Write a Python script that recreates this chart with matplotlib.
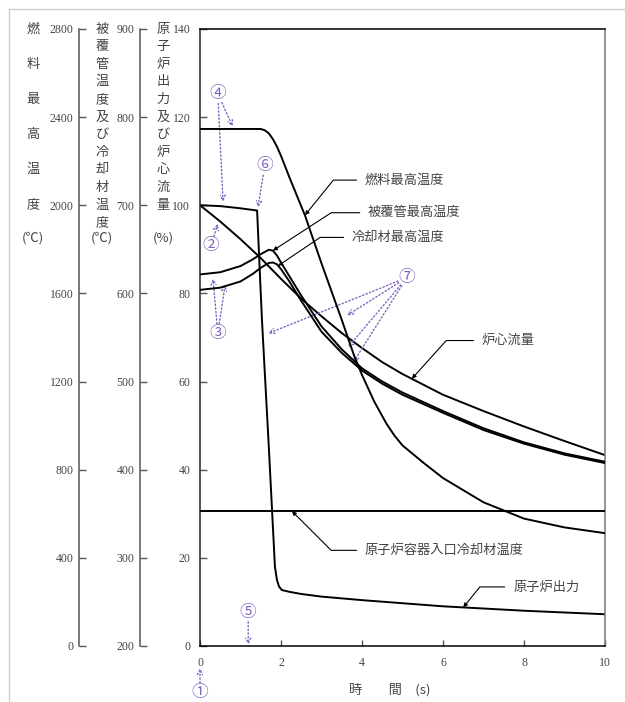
import numpy as np
import matplotlib.pyplot as plt
from matplotlib.lines import Line2D

# === データ ===
t_fuel = [0, 1.5, 1.6, 1.7, 1.8, 1.9, 2.0, 2.2, 2.6, 3.0, 3.5, 3.8, 4.0, 4.3, 4.6, 4.8, 5.0, 5.5, 6.0, 7.0, 8.0, 9.0, 10]
fuel_temp = [2346, 2346, 2340, 2326, 2300, 2266, 2224, 2130, 1950, 1736, 1480, 1320, 1230, 1110, 1010, 955, 910, 834, 762, 652, 578, 538, 512]

t_tc = [0, 0.5, 1.0, 1.3, 1.5, 1.7, 1.8, 1.9, 2.0, 2.2, 2.5, 3.0, 3.5, 4.0, 4.5, 5.0, 6.0, 7.0, 8.0, 9.0, 10]
clad_temp = [621.5, 624, 631, 638.5, 644.5, 649.5, 648.5, 643, 635, 620, 597.5, 562.5, 536.5, 515, 500, 487.5, 466.5, 447, 431, 418.5, 409]
cool_temp = [604, 606.5, 613.5, 622, 629, 634.5, 635, 633, 627.5, 614, 591.5, 556.5, 532.5, 512.5, 497.5, 485, 464.5, 445, 429.5, 417, 407.5]

t_inlet = [0, 10]
inlet_temp = [353, 353]

t_power = [0, 0.5, 1.0, 1.41, 1.45, 1.5, 1.53, 1.6, 1.7, 1.78, 1.85, 1.9, 1.95, 2.02, 2.2, 2.5, 3.0, 4.0, 5.0, 6.0, 7.0, 8.0, 9.0, 10]
power = [100, 99.8, 99.3, 98.8, 90.5, 80, 74, 62, 45, 30.6, 18, 15, 13.5, 12.7, 12.3, 11.8, 11.2, 10.4, 9.7, 9.0, 8.5, 8.0, 7.6, 7.2]

t_flow = [0, 0.5, 1.0, 1.5, 2.0, 2.5, 3.0, 3.5, 4.0, 4.5, 5.0, 6.0, 7.0, 8.0, 9.0, 10]
flow = [100, 96.3, 92.3, 88, 83.3, 78.8, 74.8, 71, 67.6, 64.4, 61.7, 57, 53.3, 49.8, 46.5, 43.3]

x_ticks = [0, 2, 4, 6, 8, 10]
pct_ticks = [0, 20, 40, 60, 80, 100, 120, 140]
clad_ticks = [200, 300, 400, 500, 600, 700, 800, 900]
fuel_ticks = [0, 400, 800, 1200, 1600, 2000, 2400, 2800]

JP = ['Noto Sans CJK JP', 'DejaVu Sans']
NUM = 'Liberation Serif'
GRAY = '#444444'
PURPLE = '#8064c0'

# === 図 ===
fig = plt.figure(figsize=(6.25, 7.02), dpi=100)
ax = fig.add_axes([0.32, 0.0798, 0.648, 0.879])
ax_clad = ax.twinx()
ax_fuel = ax.twinx()

ax.set_xlim(0, 10)
ax.set_ylim(0, 140)
ax_clad.set_ylim(200, 900)
ax_fuel.set_ylim(0, 2800)

ax.set_xticks(x_ticks)
ax.set_yticks(pct_ticks)
ax_clad.set_yticks(clad_ticks)
ax_fuel.set_yticks(fuel_ticks)

for a, pos in [(ax_clad, -0.148), (ax_fuel, -0.2988)]:
    for s in ['top', 'right', 'bottom']:
        a.spines[s].set_visible(False)
    a.spines['left'].set_visible(True)
    a.spines['left'].set_position(('axes', pos))
    a.spines['left'].set_color('#555555')
    a.spines['left'].set_linewidth(1.1)
    a.yaxis.set_ticks_position('left')
    a.yaxis.set_label_position('left')

for s in ax.spines.values():
    s.set_linewidth(1.1)
ax.spines['right'].set_color('#777777')
ax.spines['left'].set_color('#222222')

for a, p in [(ax, 7), (ax_clad, 4), (ax_fuel, 4)]:
    a.tick_params(direction='in', length=5, width=1, colors='#555555', labelcolor=GRAY,
                  labelsize=8.5, pad=p)
    for lab in a.get_yticklabels() + a.get_xticklabels():
        lab.set_fontfamily(NUM)
ax.tick_params(axis='x', length=4, pad=8)

# === 曲線 ===
lw = 1.4
ax_fuel.plot(t_fuel, fuel_temp, color='k', lw=lw)
ax_clad.plot(t_tc, clad_temp, color='k', lw=lw)
ax_clad.plot(t_tc, cool_temp, color='k', lw=lw)
ax_clad.plot(t_inlet, inlet_temp, color='k', lw=lw)
ax.plot(t_power, power, color='k', lw=lw)
ax.plot(t_flow, flow, color='k', lw=lw)

# === ラベル(引出線) ===
def leader(a, text, tip_t, tip_y, txt_pos, angle):
    a.annotate(text, xy=(tip_t, tip_y), xytext=txt_pos, textcoords=ax.transData,
               ha='left', va='center', fontsize=9.5, color=GRAY, family=JP,
               arrowprops=dict(arrowstyle='-|>', color='k', lw=0.8, mutation_scale=6,
                               shrinkA=4, shrinkB=0, relpos=(0, 0.5),
                               connectionstyle='angle,angleA=0,angleB=%g,rad=0' % angle))

leader(ax_fuel, '燃料最高温度', 2.59, np.interp(2.59, t_fuel, fuel_temp), (4.07, 105.7), 51)
leader(ax_clad, '被覆管最高温度', 1.8, np.interp(1.8, t_tc, clad_temp), (4.15, 98.3), 33)
leader(ax_clad, '冷却材最高温度', 1.93, np.interp(1.93, t_tc, cool_temp), (3.75, 92.7), 34)
leader(ax, '炉心流量', 5.23, np.interp(5.23, t_flow, flow), (6.96, 69.3), 48)
leader(ax_clad, '原子炉容器入口冷却材温度', 2.27, inlet_temp[0], (4.07, 21.7), -45)
leader(ax, '原子炉出力', 6.5, np.interp(6.5, t_power, power), (7.73, 13.4), 51)

# === 丸数字(紫の点線矢印) ===
marks = [
    ('①', (0.0, -10.6), [(0.0, -5.0)]),
    ('②', (0.27, 90.8), [(0.44, 95.8)]),
    ('③', (0.44, 70.9), [(0.32, 83.4), (0.62, 82.0)]),
    ('④', (0.44, 125.3), [(0.81, 117.8), (0.57, 100.8)]),
    ('⑤', (1.19, 7.7), [(1.19, 0.3)]),
    ('⑥', (1.60, 109.0), [(1.43, 99.5)]),
    ('⑦', (5.11, 83.6), [(1.68, 70.9), (3.63, 75.0), (3.65, 67.7), (3.78, 64.3)]),
]
for num, pos, tips in marks:
    ax.text(pos[0], pos[1], num, ha='center', va='center', fontsize=12,
            color=PURPLE, family=JP, clip_on=False)
    for tip in tips:
        ax.annotate('', xy=tip, xytext=pos, annotation_clip=False,
                    arrowprops=dict(arrowstyle='->', color=PURPLE, lw=1.0, linestyle=':',
                                    shrinkA=7, shrinkB=0, mutation_scale=9))

# === 縦書きの軸ラベル ===
def vtext(x, y0, step, chars):
    for i, ch in enumerate(chars):
        fig.text(x / 625, 1 - (y0 + step * i) / 702, ch, ha='center', va='center',
                 fontsize=9.5, color=GRAY, family=JP)

vtext(33, 29, 35.2, '燃料最高温度')
vtext(102, 29, 17.6, '被覆管温度及び冷却材温度')
vtext(163, 29, 17.6, '原子炉出力及び炉心流量')
for x, u in [(33, '(℃)'), (102, '(℃)'), (163, '(%)')]:
    fig.text(x / 625, 1 - 238 / 702, u, ha='center', va='center', fontsize=9.5,
             color=GRAY, family=JP)

fig.text(390 / 625, 1 - 690 / 702, '時　　間　(s)', ha='center', va='center',
         fontsize=9.5, color=GRAY, family=JP)

# 画像の枠
fig.add_artist(Line2D([9 / 625, 1], [1 - 9 / 702, 1 - 9 / 702], color='#cccccc', lw=1))
fig.add_artist(Line2D([9 / 625, 9 / 625], [0, 1 - 9 / 702], color='#cccccc', lw=1))

fig.savefig('out.png', dpi=100)
